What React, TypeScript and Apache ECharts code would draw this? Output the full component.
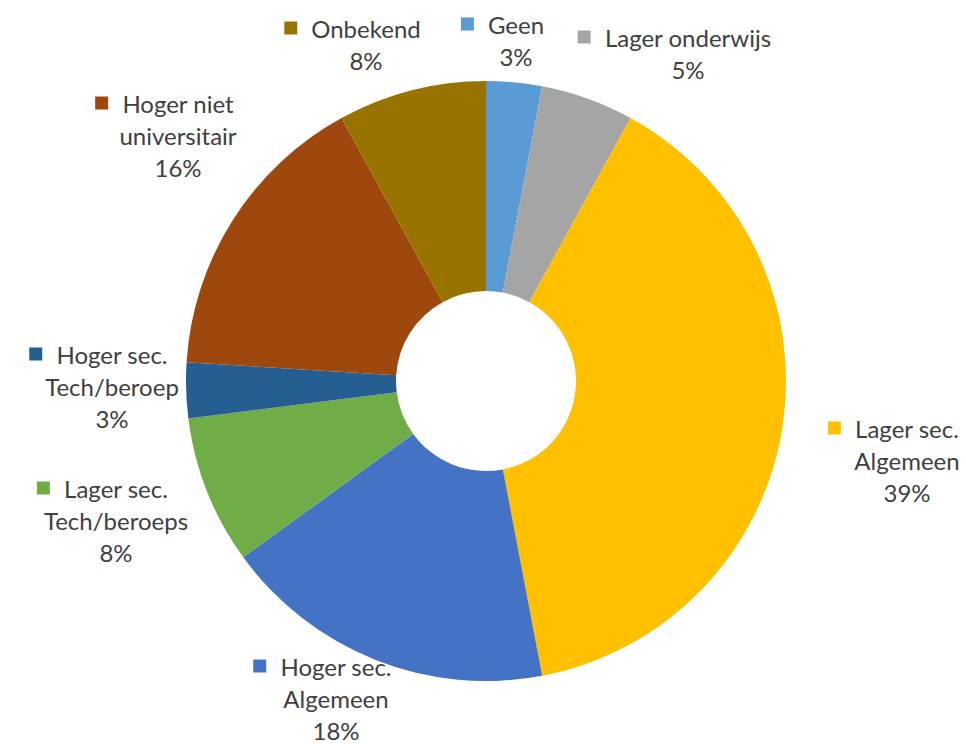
import React, { useEffect, useRef } from "react";
import * as echarts from "echarts";

// Slices, clockwise from 12 o'clock
const CATEGORIES = [
  "Geen",
  "Lager onderwijs",
  "Lager sec.\nAlgemeen",
  "Hoger sec.\nAlgemeen",
  "Lager sec.\nTech/beroeps",
  "Hoger sec.\nTech/beroep",
  "Hoger niet\nuniversitair",
  "Onbekend",
];
const VALUES = [3, 5, 39, 18, 8, 3, 16, 8];
const COLORS = [
  "#5B9BD5",
  "#A5A5A5",
  "#FFC000",
  "#4472C4",
  "#70AD47",
  "#255E91",
  "#9E480E",
  "#997300",
];
// Label block centres (page pixels), one per slice
const LABEL_X = [516, 688, 907, 336, 116, 112, 178, 366];
const LABEL_Y = [40, 53, 460, 698, 520, 386, 135, 44];

const SQ = 13;
const GAP = 14;
const TEXT_COLOR = "#404040";
const FONT = "Lato, 'Open Sans', sans-serif";

export default function App() {
  const ref = useRef<HTMLDivElement>(null);

  useEffect(() => {
    if (!ref.current) return;
    const chart = echarts.init(ref.current, null, { renderer: "svg" });

    const rich: Record<string, any> = {
      t: {
        fontFamily: FONT,
        fontSize: 24,
        color: TEXT_COLOR,
        lineHeight: 32,
        align: "center",
      },
      gap: { width: GAP, height: SQ },
      pad: { width: SQ + GAP, height: SQ },
    };
    COLORS.forEach((c, i) => {
      rich["sq" + i] = {
        width: SQ,
        height: SQ,
        backgroundColor: c,
        verticalAlign: "middle",
      };
    });

    const data = CATEGORIES.map((name, i) => ({
      name,
      value: VALUES[i],
      itemStyle: { color: COLORS[i] },
    }));

    chart.setOption({
      animation: false,
      backgroundColor: "#ffffff",
      series: [
        {
          type: "pie",
          center: [486, 381],
          radius: [90, 300],
          startAngle: 90,
          clockwise: true,
          avoidLabelOverlap: false,
          data,
          itemStyle: { borderWidth: 0 },
          label: {
            show: true,
            position: "outside",
            rich,
            formatter: (p: any) => {
              const i = p.dataIndex;
              const lines = String(p.name).split("\n");
              const out = [`{sq${i}|}{gap|}{t|${lines[0]}}{pad|}`];
              for (let k = 1; k < lines.length; k++) out.push(`{t|${lines[k]}}`);
              out.push(`{t|${p.value}%}`);
              return out.join("\n");
            },
          },
          labelLine: { show: false },
          labelLayout: (p: any) => ({
            x: LABEL_X[p.dataIndex],
            y: LABEL_Y[p.dataIndex],
            align: "center",
            verticalAlign: "middle",
          }),
          emphasis: { disabled: true },
        },
      ],
    });

    return () => chart.dispose();
  }, []);

  return (
    <div
      ref={ref}
      style={{
        position: "fixed",
        left: 0,
        top: 0,
        width: 966,
        height: 744,
      }}
    />
  );
}
